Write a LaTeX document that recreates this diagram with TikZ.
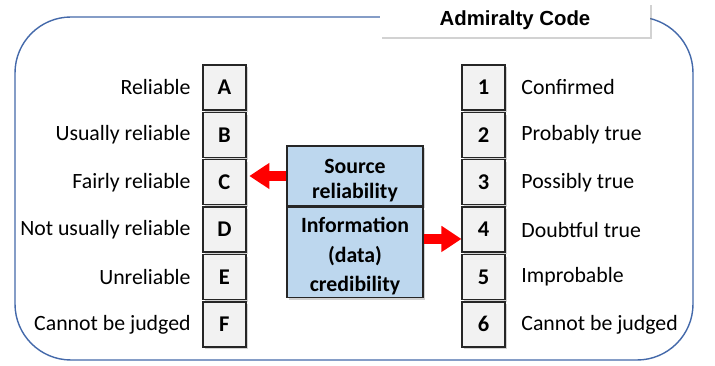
\documentclass[tikz,border=0pt]{standalone}
\usepackage{fontspec}
\setmainfont{Carlito}
\newfontfamily\titlefont{Liberation Sans}
\usetikzlibrary{positioning,shadows,arrows.meta}
\definecolor{frameblue}{RGB}{68,105,170}
\definecolor{gradegray}{RGB}{242,242,242}
\definecolor{panelblue}{RGB}{189,215,238}
\definecolor{arrowred}{RGB}{255,0,0}

\tikzset{
  boxshadow/.style={drop shadow={shadow xshift=1.6pt, shadow yshift=-1.6pt, opacity=0.35}},
  grade/.style={draw=black!85, line width=0.9pt, fill=gradegray, boxshadow,
    minimum width=1.075cm, minimum height=1.125cm, inner sep=0pt, font=\bfseries\fontsize{16}{19}\selectfont},
  desc/.style={font=\fontsize{15.5}{18}\selectfont, inner sep=1pt},
  panel/.style={draw=black!85, line width=0.9pt, fill=panelblue, boxshadow,
    minimum width=3.4cm, align=center, inner sep=2pt},
  bigarrow/.style={arrowred, line width=7pt, -{Triangle[length=0.5cm,width=0.62cm]}}
}

\begin{document}
\begin{tikzpicture}
  \useasboundingbox (0,0) rectangle (17.875,9.125);
  \fill[white] (0,0) rectangle (17.875,9.125);

  % outer frame
  \draw[frameblue, line width=1pt, rounded corners=1.4cm] (0.375,0.125) rectangle (17.325,8.7);

  % title
  \node[fill=white, boxshadow, minimum width=6.75cm, minimum height=0.85cm,
    font=\titlefont\bfseries\fontsize{14.5}{17}\selectfont] (title) at (12.875,8.625) {Admiralty Code};

  % source grades
  \node[grade] (A) at (5.61,6.94) {A};
  \node[grade] (B) at (5.61,5.755) {B};
  \node[grade] (C) at (5.61,4.57) {C};
  \node[grade] (D) at (5.61,3.385) {D};
  \node[grade] (E) at (5.61,2.2) {E};
  \node[grade] (F) at (5.61,1.015) {F};

  \node[desc, left=0.25cm of A] {Reliable};
  \node[desc, left=0.25cm of B] {Usually reliable};
  \node[desc, left=0.25cm of C] {Fairly reliable};
  \node[desc, left=0.25cm of D] {Not usually reliable};
  \node[desc, left=0.25cm of E] {Unreliable};
  \node[desc, left=0.25cm of F] {Cannot be judged};

  % information grades
  \node[grade] (n1) at (12.09,6.94) {1};
  \node[grade] (n2) at (12.09,5.755) {2};
  \node[grade] (n3) at (12.09,4.57) {3};
  \node[grade] (n4) at (12.09,3.385) {4};
  \node[grade] (n5) at (12.09,2.2) {5};
  \node[grade] (n6) at (12.09,1.015) {6};

  \node[desc, right=0.35cm of n1] {Confirmed};
  \node[desc, right=0.35cm of n2] {Probably true};
  \node[desc, right=0.35cm of n3] {Possibly true};
  \node[desc, right=0.35cm of n4] {Doubtful true};
  \node[desc, right=0.35cm of n5] {Improbable};
  \node[desc, right=0.35cm of n6] {Cannot be judged};

  % middle panels
  \node[panel, minimum height=1.5cm, font=\bfseries\fontsize{15.5}{17.5}\selectfont] (src) at (8.875,4.725) {\rule{0pt}{17pt}Source\\reliability};
  \node[panel, minimum height=2.225cm, below=0cm of src, font=\bfseries\fontsize{15.5}{21}\selectfont] (info) {\rule{0pt}{16pt}Information\\(data)\\credibility};

  % arrows
  \draw[bigarrow, shorten >=2pt] (src.west) -- (src.west -| C.east);
  \coordinate (ra) at ([yshift=0.34cm]info.east);
  \draw[bigarrow] (ra) -- (ra -| n4.west);
\end{tikzpicture}
\end{document}
